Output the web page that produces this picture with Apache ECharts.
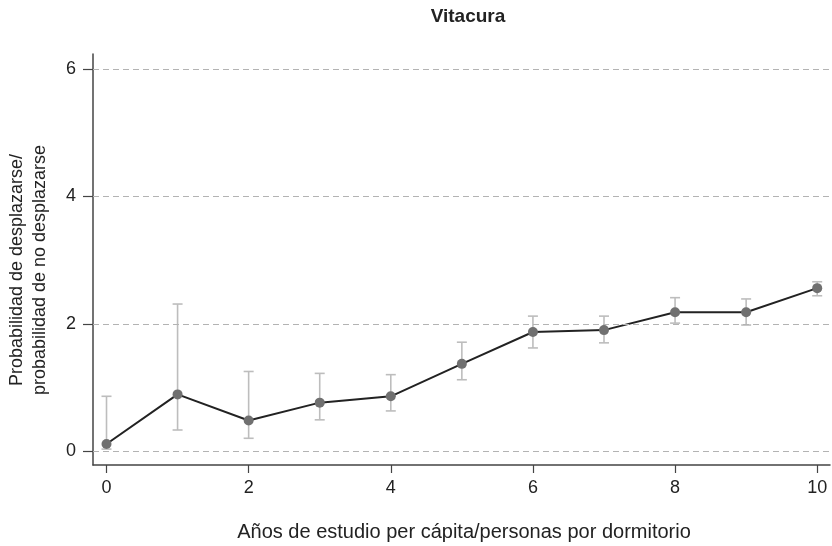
<!DOCTYPE html>
<html>
<head>
<meta charset="utf-8">
<script src="https://cdn.jsdelivr.net/npm/echarts@6/dist/echarts.min.js"></script>
<style>
html,body{margin:0;padding:0;background:#fff;}
#chart{width:832px;height:546px;}
</style>
</head>
<body>
<div id="chart"></div>
<script>
var titleText = 'Vitacura';
var xTitle = 'Años de estudio per cápita/personas por dormitorio';
var yTitle = 'Probabilidad de desplazarse/\nprobabilidad de no desplazarse';
var xVals = [0, 1, 2, 3, 4, 5, 6, 7, 8, 9, 10];
var means = [0.11, 0.89, 0.48, 0.76, 0.86, 1.37, 1.87, 1.90, 2.18, 2.18, 2.56];
var lower = [0.03, 0.33, 0.20, 0.49, 0.63, 1.12, 1.62, 1.70, 2.01, 1.98, 2.44];
var upper = [0.86, 2.31, 1.25, 1.22, 1.20, 1.71, 2.12, 2.12, 2.41, 2.39, 2.66];
var xTicks = [0, 2, 4, 6, 8, 10];
var yTicks = [0, 2, 4, 6];

var font = '"Liberation Sans", Arial, Helvetica, sans-serif';
var chart = echarts.init(document.getElementById('chart'), null, {renderer: 'canvas'});

var lineData = xVals.map(function (x, i) { return [x, means[i]]; });
var errData = xVals.map(function (x, i) { return [x, lower[i], upper[i]]; });

var option = {
  backgroundColor: '#ffffff',
  animation: false,
  textStyle: {fontFamily: font},
  grid: {left: 93, right: 2, top: 54, bottom: 81, containLabel: false},
  xAxis: {
    type: 'value',
    min: -0.19,
    max: 10.18,
    axisLine: {show: true, onZero: false, lineStyle: {color: '#444', width: 1.5}},
    axisTick: {show: true, customValues: xTicks, length: 8, inside: false, lineStyle: {color: '#444', width: 1.2}},
    axisLabel: {show: true, customValues: xTicks, margin: 14, fontSize: 18, color: '#222', fontFamily: font},
    splitLine: {show: false}
  },
  yAxis: {
    type: 'value',
    min: -0.22,
    max: 6.24,
    axisLine: {show: true, onZero: false, lineStyle: {color: '#444', width: 1.5}},
    axisTick: {show: true, customValues: yTicks, length: 10, inside: false, lineStyle: {color: '#444', width: 1.2}},
    axisLabel: {show: true, customValues: yTicks, margin: 17, fontSize: 18, color: '#222', fontFamily: font},
    splitLine: {show: false}
  },
  graphic: [
    {type: 'text', x: 468, y: 17, style: {text: titleText, font: 'bold 19px ' + font, fill: '#222', textAlign: 'center', textVerticalAlign: 'middle'}, z: 10},
    {type: 'text', x: 29, y: 270, rotation: Math.PI / 2, style: {text: yTitle, font: '18px ' + font, fill: '#222', textAlign: 'center', textVerticalAlign: 'middle', lineHeight: 23}, z: 10},
    {type: 'text', x: 464, y: 532, style: {text: xTitle, font: '20px ' + font, fill: '#222', textAlign: 'center', textVerticalAlign: 'middle'}, z: 10}
  ],
  series: [
    {
      type: 'custom',
      z: 1,
      data: errData,
      encode: {x: 0, y: [1, 2]},
      renderItem: function (params, api) {
        var x = api.value(0);
        var lo = api.coord([x, api.value(1)]);
        var hi = api.coord([x, api.value(2)]);
        var w = 5;
        var st = {stroke: '#bdbdbd', lineWidth: 1.6};
        return {
          type: 'group',
          children: [
            {type: 'line', shape: {x1: lo[0], y1: lo[1], x2: hi[0], y2: hi[1]}, style: st},
            {type: 'line', shape: {x1: lo[0] - w, y1: lo[1], x2: lo[0] + w, y2: lo[1]}, style: st},
            {type: 'line', shape: {x1: hi[0] - w, y1: hi[1], x2: hi[0] + w, y2: hi[1]}, style: st}
          ]
        };
      },
      markLine: {
        silent: true,
        symbol: 'none',
        label: {show: false},
        lineStyle: {color: '#b3b3b3', type: [6, 4], width: 1.2},
        data: yTicks.map(function (v) { return {yAxis: v}; })
      }
    },
    {
      type: 'line',
      z: 3,
      data: lineData,
      symbol: 'circle',
      symbolSize: 10,
      lineStyle: {color: '#222', width: 2},
      itemStyle: {color: '#707070', borderWidth: 0}
    }
  ]
};
chart.setOption(option);
</script>
</body>
</html>
